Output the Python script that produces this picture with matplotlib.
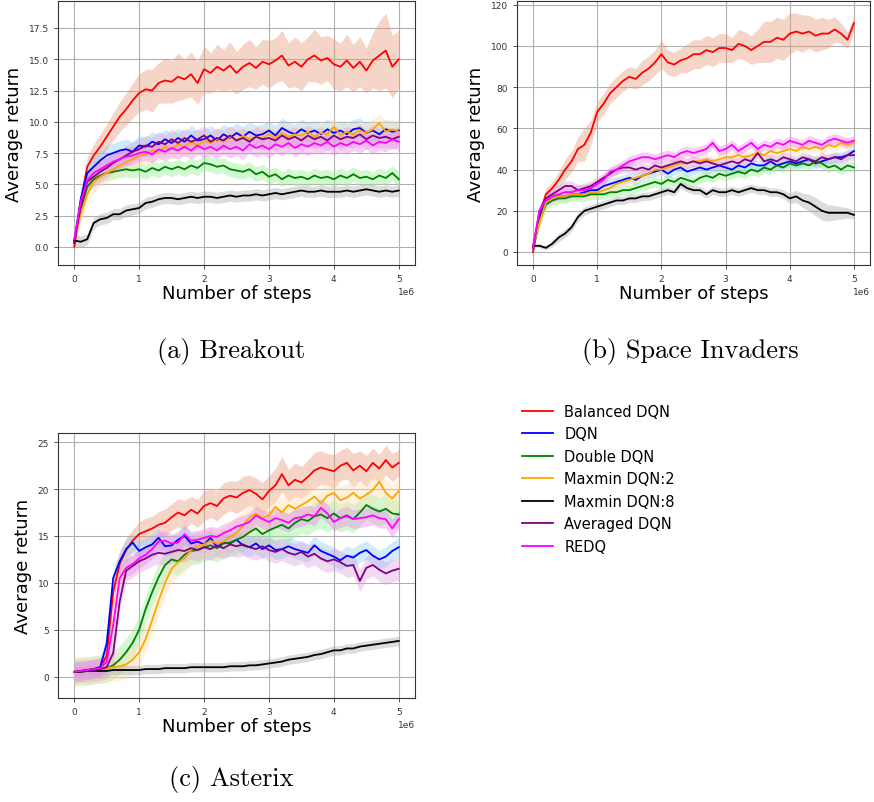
"""Learning curves of the DQN variants on three Atari games."""
import matplotlib

matplotlib.use("Agg")
import matplotlib.pyplot as plt
import numpy as np

# evaluation grid: every 1e5 environment steps
STEPS = np.linspace(0, 5e6, 51)

METHODS = ["Balanced DQN", "DQN", "Double DQN", "Maxmin DQN:2",
           "Maxmin DQN:8", "Averaged DQN", "REDQ"]
COLORS = ["red", "blue", "green", "orange", "black", "purple", "magenta"]
BAND_COLORS = ["darksalmon", "lightskyblue", "lightgreen", "navajowhite",
               "darkgray", "plum", "violet"]

# ---- Breakout ----
BREAKOUT_BALANCED = [0.0, 3.6, 6.4, 7.3, 8.0, 8.8, 9.6, 10.4, 11.0, 11.7, 12.3,
                     12.6, 12.5, 13.1, 13.3, 13.2, 13.6, 13.4, 13.8, 13.1, 14.2,
                     13.9, 14.4, 14.1, 14.5, 13.9, 14.4, 14.7, 14.3, 14.8, 14.6,
                     14.9, 15.3, 14.5, 14.8, 14.4, 15.0, 15.3, 14.9, 15.1, 14.6,
                     14.4, 14.9, 14.3, 14.8, 14.1, 14.9, 15.3, 15.7, 14.4, 15.0]
BREAKOUT_DQN = [0.3, 3.8, 5.9, 6.4, 6.9, 7.3, 7.5, 7.7, 7.8, 7.6, 8.1,
                8.0, 8.4, 8.2, 8.6, 8.3, 8.7, 8.4, 8.9, 8.5, 8.6,
                8.9, 8.5, 9.0, 8.7, 9.1, 8.8, 9.2, 8.9, 9.0, 9.3,
                8.9, 9.5, 9.2, 9.0, 9.4, 9.1, 9.3, 9.0, 9.4, 9.1,
                9.3, 9.0, 9.4, 9.5, 9.1, 9.3, 9.0, 9.4, 9.2, 9.3]
BREAKOUT_DOUBLE = [0.4, 3.0, 4.8, 5.4, 5.7, 5.9, 6.0, 6.1, 6.2, 6.1, 6.2,
                   6.0, 6.3, 6.1, 6.4, 6.2, 6.4, 6.2, 6.5, 6.3, 6.7,
                   6.6, 6.4, 6.5, 6.2, 6.1, 6.0, 6.2, 5.8, 6.0, 5.6,
                   5.8, 5.4, 5.7, 5.5, 5.6, 5.4, 5.7, 5.5, 5.6, 5.4,
                   5.7, 5.5, 5.8, 5.5, 5.6, 5.4, 5.7, 5.5, 5.9, 5.4]
BREAKOUT_MAXMIN2 = [0.5, 2.6, 4.2, 5.2, 5.6, 5.9, 6.2, 6.5, 6.8, 7.0, 7.3,
                    7.4, 7.7, 7.6, 8.0, 7.8, 8.2, 8.0, 8.4, 8.1, 8.5,
                    8.3, 8.6, 8.4, 8.8, 8.5, 8.9, 8.6, 8.8, 8.7, 9.0,
                    8.7, 9.1, 8.8, 9.0, 8.9, 9.2, 8.8, 9.1, 9.0, 9.6,
                    8.9, 9.2, 9.0, 9.3, 9.1, 9.4, 9.9, 9.2, 9.4, 9.2]
BREAKOUT_MAXMIN8 = [0.5, 0.4, 0.6, 1.9, 2.2, 2.3, 2.6, 2.6, 2.9, 3.0, 3.1,
                    3.5, 3.6, 3.8, 3.9, 3.9, 3.8, 3.9, 4.0, 3.9, 4.0,
                    4.0, 3.9, 4.0, 4.1, 4.0, 4.1, 4.1, 4.2, 4.1, 4.2,
                    4.3, 4.2, 4.3, 4.4, 4.5, 4.4, 4.4, 4.5, 4.4, 4.4,
                    4.4, 4.5, 4.4, 4.5, 4.6, 4.5, 4.4, 4.5, 4.4, 4.5]
BREAKOUT_AVERAGED = [0.4, 3.2, 5.2, 5.6, 6.0, 6.3, 6.7, 7.0, 7.3, 7.6, 7.8,
                     8.1, 8.0, 8.4, 8.2, 8.6, 8.3, 8.7, 8.4, 8.6, 8.9,
                     8.4, 8.7, 8.5, 8.9, 8.5, 8.7, 8.4, 8.8, 8.6, 8.7,
                     8.5, 8.9, 8.6, 8.8, 8.5, 8.9, 8.6, 8.8, 8.5, 8.9,
                     8.6, 8.8, 8.7, 9.0, 8.6, 8.9, 8.7, 8.8, 8.6, 8.8]
BREAKOUT_REDQ = [0.6, 3.6, 5.3, 5.9, 6.2, 6.5, 6.8, 7.0, 7.2, 7.3, 7.5,
                 7.6, 7.4, 7.8, 7.6, 7.9, 7.7, 8.0, 7.7, 8.1, 7.8,
                 8.0, 7.7, 8.1, 7.8, 8.0, 7.7, 8.2, 7.9, 8.1, 7.8,
                 8.2, 8.0, 8.3, 7.9, 8.2, 8.0, 8.3, 8.1, 8.4, 8.0,
                 8.3, 8.1, 8.4, 8.2, 8.5, 8.1, 8.4, 8.3, 8.6, 8.4]
BREAKOUT_SPREAD = [
    [0.0, 0.5, 0.8, 0.9, 1.0, 1.0, 1.1, 1.2, 1.3, 1.4, 1.5,
     1.6, 1.7, 1.6, 1.8, 1.7, 1.9, 1.6, 1.8, 1.7, 1.9,
     1.6, 1.8, 1.7, 1.9, 1.7, 1.8, 1.9, 1.7, 1.8, 1.9,
     1.8, 2.0, 1.8, 2.0, 1.9, 1.8, 2.1, 1.9, 1.8, 2.0,
     1.9, 2.1, 1.9, 2.0, 1.8, 2.2, 2.8, 3.0, 2.5, 2.3],
    0.8, 0.6, 0.8, 0.45, 0.8, 0.7,
]

# ---- Space Invaders ----
SPACE_BALANCED = [0, 18, 28, 31, 35, 40, 44, 50, 52, 58, 68,
                  72, 77, 80, 83, 85, 84, 87, 89, 92, 96,
                  92, 91, 93, 94, 96, 96, 98, 97, 99, 99,
                  98, 101, 100, 98, 100, 102, 102, 104, 103, 106,
                  107, 106, 107, 105, 106, 106, 108, 106, 103, 111]
SPACE_DQN = [2, 16, 25, 26, 27, 27, 28, 28, 29, 30, 30,
             32, 33, 34, 35, 36, 35, 37, 38, 39, 40,
             38, 40, 41, 39, 40, 41, 40, 41, 42, 41,
             40, 42, 41, 43, 42, 42, 44, 42, 43, 44,
             43, 44, 45, 43, 44, 45, 46, 46, 47, 49]
SPACE_DOUBLE = [2, 15, 23, 25, 26, 26, 27, 27, 27, 28, 28,
                28, 29, 29, 30, 30, 31, 32, 33, 34, 33,
                35, 34, 36, 35, 34, 36, 37, 36, 38, 37,
                38, 39, 38, 40, 39, 41, 40, 42, 41, 43,
                42, 43, 42, 44, 43, 41, 42, 40, 42, 41]
SPACE_MAXMIN2 = [3, 14, 24, 26, 27, 27, 28, 28, 28, 29, 29,
                 30, 31, 33, 34, 35, 36, 37, 38, 40, 40,
                 41, 42, 43, 43, 44, 44, 45, 44, 45, 46,
                 46, 47, 46, 47, 48, 47, 49, 48, 49, 50,
                 49, 51, 50, 51, 50, 52, 51, 53, 52, 53]
SPACE_MAXMIN8 = [3, 3, 2, 4, 7, 9, 12, 17, 20, 21, 22,
                 23, 24, 25, 25, 26, 26, 27, 27, 28, 29,
                 30, 29, 33, 31, 30, 30, 28, 30, 29, 29,
                 30, 29, 30, 31, 30, 30, 29, 29, 28, 26,
                 27, 25, 24, 22, 20, 19, 19, 19, 19, 18]
SPACE_AVERAGED = [2, 20, 26, 28, 30, 32, 32, 30, 31, 32, 34,
                  36, 38, 40, 41, 41, 40, 41, 40, 42, 41,
                  42, 43, 44, 43, 44, 43, 44, 43, 42, 43,
                  44, 43, 45, 44, 48, 44, 45, 44, 46, 45,
                  44, 46, 45, 44, 46, 45, 46, 45, 47, 47]
SPACE_REDQ = [2, 20, 25, 27, 28, 29, 29, 30, 30, 31, 33,
              35, 39, 40, 42, 44, 45, 46, 46, 45, 46,
              47, 46, 48, 49, 48, 49, 50, 53, 49, 50,
              52, 49, 51, 53, 50, 52, 51, 53, 52, 54,
              53, 52, 54, 53, 52, 54, 55, 54, 53, 54]
SPACE_SPREAD = [
    [0, 2, 3, 3, 4, 5, 5, 6, 8, 6, 5,
     5, 5, 5, 5, 5, 5, 6, 6, 6, 7,
     6, 6, 6, 7, 7, 7, 7, 7, 7, 7,
     6, 7, 7, 7, 8, 10, 10, 10, 10, 10,
     9, 9, 8, 8, 8, 7, 6, 5, 4, 4],
    2.5, 2.5, 2.5,
    [0.5, 1, 1, 1.5, 2, 2, 2, 2, 2, 2, 2,
     2, 2, 2, 2, 2, 2, 2, 2, 2, 2,
     2, 2, 2, 2, 2, 2, 2, 2, 2, 2,
     2, 2, 2, 2, 2, 2, 2, 2, 2, 2.5,
     3, 3.5, 4, 4.5, 4.5, 4, 3.5, 3, 2.5, 2],
    2.5, 2.5,
]

# ---- Asterix ----
ASTERIX_BALANCED = [0.5, 0.6, 0.7, 0.8, 1.0, 2.2, 9.0, 12.0, 13.5, 14.5, 15.2,
                    15.5, 15.8, 16.2, 16.4, 17.0, 17.5, 17.2, 17.8, 17.4, 18.2,
                    18.5, 18.2, 19.0, 19.3, 19.1, 19.6, 19.9, 19.5, 18.9, 19.8,
                    20.4, 21.6, 20.4, 21.0, 20.7, 21.3, 22.0, 22.3, 22.1, 21.9,
                    22.5, 22.8, 22.0, 22.5, 21.9, 22.8, 22.2, 23.1, 22.3, 22.8]
ASTERIX_DQN = [0.5, 0.6, 0.7, 0.8, 1.0, 3.5, 10.5, 12.3, 13.6, 14.3, 13.4,
               13.8, 14.1, 14.8, 13.9, 14.0, 14.6, 15.0, 14.2, 14.4, 14.1,
               14.8, 13.8, 14.3, 14.2, 14.6, 14.0, 13.8, 14.2, 13.6, 14.0,
               13.5, 13.6, 13.9, 13.6, 13.4, 13.2, 14.0, 13.4, 13.1, 12.8,
               12.4, 12.9, 12.7, 13.2, 13.5, 12.9, 12.5, 12.8, 13.4, 13.8]
ASTERIX_DOUBLE = [0.5, 0.6, 0.6, 0.7, 0.8, 0.9, 1.2, 1.8, 2.6, 3.6, 5.0,
                  7.2, 9.0, 10.6, 11.9, 12.5, 12.3, 13.0, 13.4, 13.5, 13.8,
                  14.0, 13.7, 14.2, 14.3, 14.6, 14.9, 15.4, 15.8, 15.2, 15.6,
                  15.9, 16.2, 15.8, 16.4, 16.8, 16.6, 17.1, 17.3, 16.9, 17.4,
                  16.9, 17.2, 16.8, 17.5, 18.3, 17.9, 17.6, 17.9, 17.4, 17.3]
ASTERIX_MAXMIN2 = [0.5, 0.6, 0.6, 0.7, 0.8, 0.9, 1.0, 1.1, 1.3, 1.8, 2.6,
                   4.0, 6.0, 8.1, 10.0, 11.5, 12.2, 12.6, 13.5, 13.9, 14.1,
                   14.5, 14.2, 14.4, 14.9, 15.3, 16.1, 17.0, 17.4, 16.9, 17.2,
                   18.1, 17.5, 18.3, 17.9, 18.3, 18.7, 19.2, 18.5, 19.3, 19.6,
                   18.8, 19.1, 19.6, 19.0, 19.4, 19.9, 20.8, 19.6, 19.0, 19.8]
ASTERIX_MAXMIN8 = [0.5, 0.5, 0.6, 0.6, 0.6, 0.6, 0.7, 0.7, 0.7, 0.7, 0.7,
                   0.8, 0.8, 0.8, 0.9, 0.9, 0.9, 0.9, 1.0, 1.0, 1.0,
                   1.0, 1.0, 1.0, 1.1, 1.1, 1.1, 1.2, 1.2, 1.3, 1.4,
                   1.5, 1.6, 1.8, 1.9, 2.0, 2.1, 2.3, 2.4, 2.6, 2.8,
                   2.8, 3.0, 3.0, 3.2, 3.3, 3.4, 3.5, 3.6, 3.7, 3.8]
ASTERIX_AVERAGED = [0.5, 0.6, 0.6, 0.7, 0.8, 1.0, 2.5, 8.0, 11.3, 11.8, 12.3,
                    12.6, 13.0, 13.2, 13.1, 13.3, 13.5, 13.4, 13.7, 13.5, 13.8,
                    13.6, 14.0, 13.7, 14.1, 13.9, 14.1, 13.8, 13.6, 13.9, 13.5,
                    13.3, 13.6, 13.2, 13.0, 13.3, 12.8, 13.1, 12.6, 12.3, 12.5,
                    12.2, 11.8, 11.9, 10.2, 11.6, 11.9, 11.4, 11.0, 11.3, 11.5]
ASTERIX_REDQ = [0.5, 0.6, 0.7, 0.8, 0.9, 1.6, 5.5, 10.5, 11.6, 12.0, 12.6,
                13.0, 13.6, 14.4, 14.5, 14.2, 14.3, 15.2, 14.5, 14.6, 14.8,
                15.0, 14.9, 15.3, 15.6, 16.0, 16.2, 16.5, 17.2, 16.8, 16.5,
                16.9, 16.7, 16.4, 16.9, 17.0, 17.3, 17.1, 18.0, 17.4, 16.5,
                16.9, 17.1, 16.8, 16.9, 17.0, 17.2, 16.9, 16.8, 15.8, 16.8]
ASTERIX_SPREAD = [
    [0.3, 0.3, 0.3, 0.3, 0.4, 1.0, 1.6, 1.4, 1.3, 1.2, 1.3,
     1.4, 1.3, 1.4, 1.5, 1.4, 1.5, 1.6, 1.4, 1.5, 1.6,
     1.5, 1.6, 1.7, 1.6, 1.7, 1.8, 1.6, 1.7, 1.8, 1.6,
     1.8, 1.9, 1.7, 1.8, 1.7, 1.8, 1.9, 1.8, 1.7, 1.8,
     1.6, 1.7, 1.8, 1.6, 1.7, 1.6, 1.5, 1.6, 1.5, 1.4],
    1.0, 1.5, 1.5, 0.5, 1.2, 1.0,
]

GAMES = [
    ("(a) Breakout", [BREAKOUT_BALANCED, BREAKOUT_DQN, BREAKOUT_DOUBLE,
                      BREAKOUT_MAXMIN2, BREAKOUT_MAXMIN8, BREAKOUT_AVERAGED,
                      BREAKOUT_REDQ], BREAKOUT_SPREAD),
    ("(b) Space Invaders", [SPACE_BALANCED, SPACE_DQN, SPACE_DOUBLE,
                            SPACE_MAXMIN2, SPACE_MAXMIN8, SPACE_AVERAGED,
                            SPACE_REDQ], SPACE_SPREAD),
    ("(c) Asterix", [ASTERIX_BALANCED, ASTERIX_DQN, ASTERIX_DOUBLE,
                     ASTERIX_MAXMIN2, ASTERIX_MAXMIN8, ASTERIX_AVERAGED,
                     ASTERIX_REDQ], ASTERIX_SPREAD),
]

W, H = 874, 803
# axes boxes in pixels: left, top, right, bottom
BOXES = [(58, 2, 415, 266), (517, 2, 870, 266), (58, 434, 415, 699)]
CAPTIONS_AT = [(231, 352), (690, 352), (231, 780)]

fig = plt.figure(figsize=(W / 100, H / 100), dpi=100)

lines = []
for (caption, series, spread), box, cap in zip(GAMES, BOXES, CAPTIONS_AT):
    l, t, r, b = box
    ax = fig.add_axes([l / W, 1 - b / H, (r - l) / W, (b - t) / H])
    lines = []
    for mean, hw, col, bcol, name in zip(series, spread, COLORS, BAND_COLORS,
                                         METHODS):
        mean = np.asarray(mean, dtype=float)
        hw = np.asarray(hw, dtype=float)
        ax.fill_between(STEPS, mean - hw, mean + hw, color=bcol, alpha=0.4,
                        lw=0)
        ln, = ax.plot(STEPS, mean, color=col, lw=1.3, label=name)
        lines.append(ln)
    ax.grid(True, color="#b0b0b0", lw=0.8)
    ax.set_axisbelow(True)
    ax.set_xlabel("Number of steps", fontsize=13, labelpad=1)
    ax.set_ylabel("Average return", fontsize=13, labelpad=4)
    ax.tick_params(labelsize=6.5, colors="#333333", length=3, width=0.6)
    ax.xaxis.get_offset_text().set_fontsize(6.5)
    ax.xaxis.get_offset_text().set_color("#333333")
    for sp in ax.spines.values():
        sp.set_color("#333333")
        sp.set_linewidth(0.8)
    fig.text(cap[0] / W, 1 - cap[1] / H, caption, fontsize=19,
             family="cmr10", ha="center", va="center")

fig.legend(handles=lines, loc="upper left",
           bbox_to_anchor=(522 / W, 1 - 405 / H), frameon=False,
           fontsize=10.5, handlelength=2.1, handletextpad=0.8,
           labelspacing=0.51, borderpad=0, borderaxespad=0)

fig.savefig("out.png", dpi=100)
